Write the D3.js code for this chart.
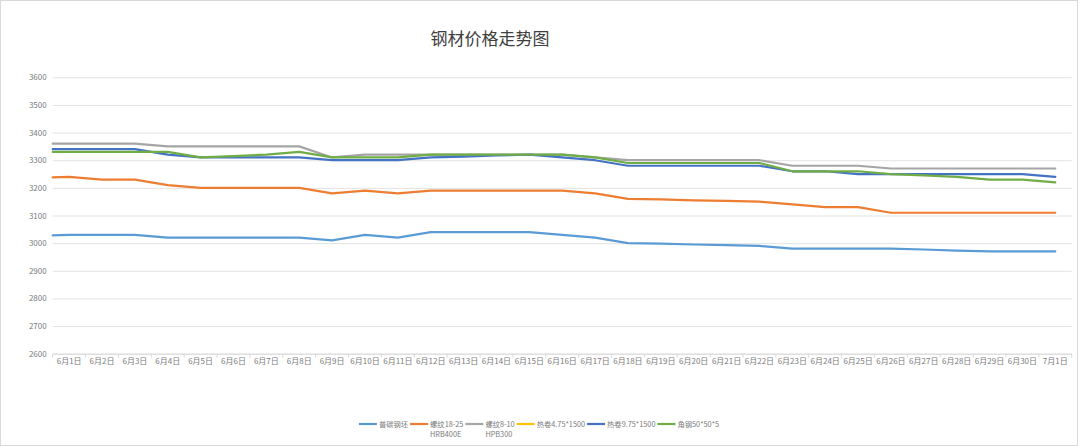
<!DOCTYPE html>
<html lang="zh">
<head>
<meta charset="UTF-8">
<title>钢材价格走势图</title>
<script src="https://d3js.org/d3.v7.min.js"></script>
<style>
  body { margin: 0; background: #fff; }
  text { font-family: "Noto Sans CJK SC", "Noto Sans", sans-serif; }
  .axis text { fill: #7a7a7a; font-size: 8px; }
</style>
</head>
<body>
<svg width="1080" height="446"></svg>
<script>
// categories
const dates = [];
for (let d = 1; d <= 30; d++) dates.push("6月" + d + "日");
dates.push("7月1日");

// series values (one per date)
const putanGangpi = [3030, 3030, 3030, 3020, 3020, 3020, 3020, 3020, 3010, 3030, 3020, 3040, 3040, 3040, 3040, 3030,
  3020, 3000, 2998, 2995, 2993, 2990, 2980, 2980, 2980, 2980, 2977, 2973, 2970, 2970, 2970];
const luowen1825 = [3240, 3230, 3230, 3210, 3200, 3200, 3200, 3200, 3180, 3190, 3180, 3190, 3190, 3190, 3190, 3190,
  3180, 3160, 3158, 3155, 3153, 3150, 3140, 3130, 3130, 3110, 3110, 3110, 3110, 3110, 3110];
const luowen810 = [3360, 3360, 3360, 3350, 3350, 3350, 3350, 3350, 3310, 3320, 3320, 3320, 3320, 3320, 3320, 3320,
  3310, 3300, 3300, 3300, 3300, 3300, 3280, 3280, 3280, 3270, 3270, 3270, 3270, 3270, 3270];
const rejuan475 = []; // no visible line in the picture
const rejuan975 = [3340, 3340, 3340, 3320, 3310, 3310, 3310, 3310, 3300, 3300, 3300, 3310, 3313, 3317, 3320, 3310,
  3300, 3280, 3280, 3280, 3280, 3280, 3260, 3260, 3250, 3250, 3250, 3250, 3250, 3250, 3240];
const jiaogang = [3330, 3330, 3330, 3330, 3310, 3315, 3320, 3330, 3310, 3310, 3310, 3320, 3320, 3320, 3320, 3320,
  3310, 3290, 3290, 3290, 3290, 3290, 3260, 3260, 3260, 3250, 3245, 3240, 3230, 3230, 3220];
// value where each line meets the left edge of the plot (it enters from outside)
const edgeValues = [3028, 3238, 3360, null, 3340, 3330];

const seriesNames = ["普碳钢坯", "螺纹18-25|HRB400E", "螺纹8-10|HPB300", "热卷4.75*1500", "热卷9.75*1500", "角钢50*50*5"];
const seriesColors = ["#5B9BD5", "#ED7D31", "#A5A5A5", "#FFC000", "#4472C4", "#70AD47"];
const seriesValues = [putanGangpi, luowen1825, luowen810, rejuan475, rejuan975, jiaogang];
const yTicks = [2600, 2700, 2800, 2900, 3000, 3100, 3200, 3300, 3400, 3500, 3600];

const plot = { left: 52.7, right: 1071.7, top: 77.3, bottom: 353.7 };
const svg = d3.select("svg");

// chart border
svg.append("rect")
  .attr("x", 0.5).attr("y", 0.5).attr("width", 1077).attr("height", 445)
  .attr("fill", "#fff").attr("stroke", "#d9d9d9");

svg.append("text")
  .attr("x", 490).attr("y", 45)
  .attr("text-anchor", "middle")
  .attr("font-size", 17)
  .attr("fill", "#404040")
  .text("钢材价格走势图");

const x = d3.scaleBand().domain(dates).range([plot.left, plot.right]).paddingInner(0).paddingOuter(0);
const y = d3.scaleLinear().domain([2600, 3600]).range([plot.bottom, plot.top]);

// y axis + gridlines
const yAxis = svg.append("g").attr("class", "axis")
  .attr("transform", `translate(${plot.left},0)`)
  .call(d3.axisLeft(y).tickValues(yTicks).tickFormat(d3.format("d"))
    .tickSize(-(plot.right - plot.left)).tickPadding(6));
yAxis.select(".domain").remove();
yAxis.selectAll(".tick line").attr("stroke", "#e3e3e3");

// x axis
const xAxis = svg.append("g").attr("class", "axis")
  .attr("transform", `translate(0,${plot.bottom})`)
  .call(d3.axisBottom(x).tickSize(0).tickPadding(6));
xAxis.select(".domain").attr("stroke", "#d9d9d9");
xAxis.selectAll(".tick text").attr("dy", "0.6em");
// tick marks between categories
svg.append("g").selectAll("line")
  .data(d3.range(dates.length + 1))
  .join("line")
  .attr("x1", i => i < dates.length ? x(dates[i]) : plot.right)
  .attr("x2", i => i < dates.length ? x(dates[i]) : plot.right)
  .attr("y1", plot.bottom).attr("y2", plot.bottom + 4)
  .attr("stroke", "#d9d9d9");

// lines
const line = d3.line().x(p => p[0]).y(p => p[1]);
seriesValues.forEach((vals, s) => {
  if (!vals.length) return;
  const pts = [[x(dates[0]), y(edgeValues[s])]];
  vals.forEach((v, i) => pts.push([x(dates[i]) + x.bandwidth() / 2, y(v)]));
  svg.append("path")
    .attr("d", line(pts))
    .attr("fill", "none")
    .attr("stroke", seriesColors[s])
    .attr("stroke-width", 2.2)
    .attr("stroke-linejoin", "round")
    .attr("stroke-linecap", "round");
});

// legend
const legend = svg.append("g");
let lx = 0;
seriesNames.forEach((name, s) => {
  const g = legend.append("g").attr("transform", `translate(${lx},0)`);
  g.append("line").attr("x1", 0).attr("x2", 18).attr("y1", 0).attr("y2", 0)
    .attr("stroke", seriesColors[s]).attr("stroke-width", 2.2);
  let w = 0;
  name.split("|").forEach((part, k) => {
    const t = g.append("text").attr("x", 20).attr("y", k * 10).attr("dy", "0.35em")
      .attr("font-size", 7.3).attr("fill", "#7a7a7a").text(part);
    w = Math.max(w, t.node().getComputedTextLength());
  });
  lx += 20 + w + 2;
});
legend.attr("transform", `translate(${539 - (lx - 2) / 2},424)`);
</script>
</body>
</html>
